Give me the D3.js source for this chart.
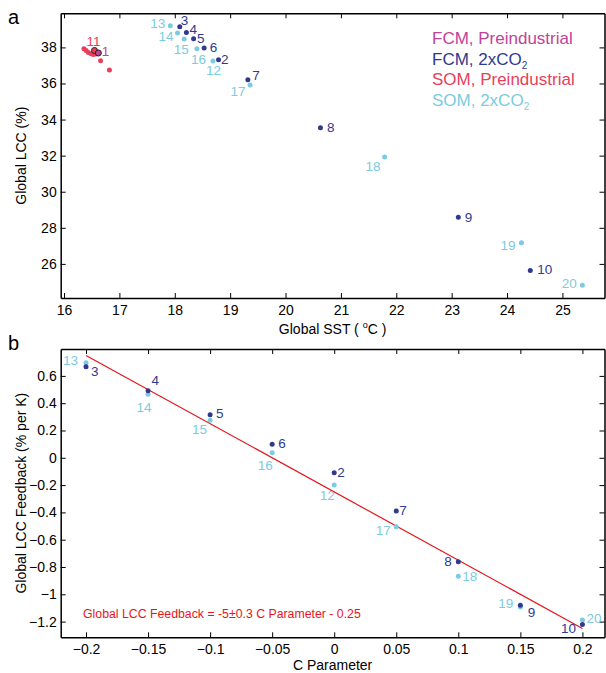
<!DOCTYPE html>
<html lang="en">
<head>
<meta charset="UTF-8">
<title>Global LCC vs SST and C Parameter</title>
<style>
  body { margin: 0; background: #fff; }
  svg { display: block; font-family: "Liberation Sans", Arial, Helvetica, sans-serif; }
  .tick text { font-size: 14px; fill: #000; }
  .domain, .tick line { stroke: #000; }
  .domain { stroke-width: 1.5px; }
</style>
</head>
<body>
<svg id="chart" width="606" height="673"></svg>
<script src="https://cdn.jsdelivr.net/npm/d3@7"></script>
<script>
// ---- data ----
// panel a : run ids and global SST / LCC
const fcm2Ids = [2, 3, 4, 5, 6, 7, 8, 9, 10];
const fcm2Sst = [18.79, 18.09, 18.21, 18.34, 18.53, 19.32, 20.63, 23.12, 24.42];
const fcm2Lcc = [37.32, 39.15, 38.83, 38.48, 37.97, 36.21, 33.55, 28.59, 25.64];

const som2Ids = [12, 13, 14, 15, 16, 17, 18, 19, 20];
const som2Sst = [18.69, 17.92, 18.05, 18.17, 18.40, 19.36, 21.79, 24.26, 25.36];
const som2Lcc = [37.25, 39.20, 38.80, 38.47, 37.93, 35.91, 31.92, 27.17, 24.82];

const somPiSst = [16.36, 16.40, 16.44, 16.49, 16.53, 16.58, 16.60, 16.66, 16.82];
const somPiLcc = [37.93, 37.83, 37.72, 37.65, 37.61, 37.63, 37.66, 37.26, 36.75];

// control runs (circled)
const ctrlIds = [11, 1];
const ctrlSst = [16.55, 16.62];
const ctrlLcc = [37.83, 37.69];

// panel b : C parameter and LCC feedback (% per K)
const cParam = [0, -0.2, -0.15, -0.1, -0.05, 0.05, 0.1, 0.15, 0.2];
const fbFcm = [-0.11, 0.667, 0.491, 0.316, 0.099, -0.39, -0.761, -1.081, -1.222];
const fbSom = [-0.199, 0.697, 0.465, 0.275, 0.037, -0.505, -0.868, -1.093, -1.188];
const fitSlope = -5, fitIntercept = -0.25;

// ticks
const sstTicks = [16, 17, 18, 19, 20, 21, 22, 23, 24, 25];
const lccTicks = [26, 28, 30, 32, 34, 36, 38];
const cTicks = [-0.2, -0.15, -0.1, -0.05, 0, 0.05, 0.1, 0.15, 0.2];
const fbTicks = [-1.2, -1, -0.8, -0.6, -0.4, -0.2, 0, 0.2, 0.4, 0.6];

// legend
const legendNames = [["FCM, Preindustrial", ""], ["FCM, 2xCO", "2"], ["SOM, Preindustrial", ""], ["SOM, 2xCO", "2"]];

// ---- colours ----
const cFcmPi = "#c2429a", cFcm2 = "#2f3a8f", cSomPi = "#e8405c", cSom2 = "#7ccbe0", cFit = "#e8141c";
const legendColors = [cFcmPi, cFcm2, cSomPi, cSom2];

const svg = d3.select("#chart");
const L = 60.7, R = 604.5;
const labelSize = 13.5;

// label placement: id -> [dx, dy, anchor]
const placeA = {
  3: [1, -2, "start"], 13: [-5, 2, "end"], 4: [3, 2, "start"], 14: [-4, 8.5, "end"],
  5: [3.5, 4, "start"], 15: [4.5, 15, "end"], 6: [5.5, 4, "start"], 16: [9, 15, "end"],
  2: [2.5, 4, "start"], 12: [8, 14, "end"], 7: [4.5, 0, "start"], 17: [-4.5, 11, "end"],
  8: [6.5, 4.5, "start"], 18: [-4, 13.5, "end"], 9: [6.5, 4.5, "start"], 19: [-6, 7.5, "end"],
  10: [7, 3.5, "start"], 20: [-5.5, 3, "end"], 11: [-1, -4.5, "middle"], 1: [3.5, 3.5, "start"]
};
const placeB = {
  13: [-8, 2.5, "end"], 3: [5, 9, "start"], 4: [3.5, -5.5, "start"], 14: [-4, 18, "middle"],
  5: [6, 3, "start"], 15: [-3, 14, "end"], 6: [6, 4, "start"], 16: [0.5, 17.5, "end"],
  2: [3, 4.5, "start"], 12: [0.5, 15, "end"], 7: [3, 3.5, "start"], 17: [-5.5, 8.5, "end"],
  8: [-6.5, 4.5, "end"], 18: [4, 4.5, "start"], 19: [-7, 1, "end"], 9: [7.5, 12, "start"],
  10: [-6.5, 8, "end"], 20: [4, 3, "start"]
};

function frame(x, y, xt, yt, xfmt, yfmt) {
  const [y0, y1] = y.range();
  svg.append("g").attr("transform", `translate(0,${y0})`)
    .call(d3.axisBottom(x).tickValues(xt).tickFormat(xfmt).tickSizeInner(-5).tickSizeOuter(0).tickPadding(7));
  svg.append("g").attr("transform", `translate(0,${y1})`)
    .call(d3.axisTop(x).tickValues(xt).tickFormat("").tickSizeInner(-5).tickSizeOuter(0));
  svg.append("g").attr("transform", `translate(${L},0)`)
    .call(d3.axisLeft(y).tickValues(yt).tickFormat(yfmt).tickSizeInner(-5).tickSizeOuter(0).tickPadding(4));
  svg.append("g").attr("transform", `translate(${R},0)`)
    .call(d3.axisRight(y).tickValues(yt).tickFormat("").tickSizeInner(-5).tickSizeOuter(0));
}

function points(x, y, xs, ys, color, ids, place, r) {
  const pts = xs.map((v, i) => ({ x: x(v), y: y(ys[i]), id: ids ? ids[i] : null }));
  svg.append("g").selectAll("circle").data(pts).join("circle")
    .attr("cx", d => d.x).attr("cy", d => d.y).attr("r", r || 2.5).attr("fill", color);
  if (ids) {
    svg.append("g").selectAll("text").data(pts).join("text")
      .attr("x", d => d.x + place[d.id][0]).attr("y", d => d.y + place[d.id][1])
      .attr("text-anchor", d => place[d.id][2])
      .attr("font-size", labelSize).attr("fill", color).text(d => d.id);
  }
}

// ---- panel a ----
const xA = d3.scaleLinear().domain([15.94, 25.76]).range([L, R]);
const yA = d3.scaleLinear().domain([24.11, 39.89]).range([298, 13.3]);
frame(xA, yA, sstTicks, lccTicks, d3.format("d"), d3.format("d"));

points(xA, yA, somPiSst, somPiLcc, cSomPi);
points(xA, yA, som2Sst, som2Lcc, cSom2, som2Ids, placeA);
points(xA, yA, fcm2Sst, fcm2Lcc, cFcm2, fcm2Ids, placeA);

// circled control runs
const ctrlColors = [cSomPi, cFcmPi];
svg.append("g").selectAll("circle").data(ctrlIds).join("circle")
  .attr("cx", (d, i) => xA(ctrlSst[i])).attr("cy", (d, i) => yA(ctrlLcc[i]))
  .attr("r", 3).attr("fill", (d, i) => ctrlColors[i]).attr("stroke", "#222").attr("stroke-width", 1);
svg.append("g").selectAll("text").data(ctrlIds).join("text")
  .attr("x", (d, i) => xA(ctrlSst[i]) + placeA[d][0]).attr("y", (d, i) => yA(ctrlLcc[i]) + placeA[d][1])
  .attr("text-anchor", d => placeA[d][2]).attr("font-size", labelSize)
  .attr("fill", (d, i) => ctrlColors[i]).text(d => d);

// legend
const leg = svg.append("g").selectAll("text").data(legendNames).join("text")
  .attr("x", 432).attr("y", (d, i) => 44 + i * 20.5)
  .attr("font-size", 17).attr("fill", (d, i) => legendColors[i]);
leg.append("tspan").text(d => d[0]);
leg.filter(d => d[1]).append("tspan").attr("font-size", 10).attr("dy", 4).text(d => d[1]);

// axis titles
svg.append("text").attr("transform", `translate(26,${(13.3 + 298) / 2}) rotate(-90)`)
  .attr("text-anchor", "middle").attr("font-size", 14).text("Global  LCC (%)");
const sst = svg.append("text").attr("x", (L + R) / 2).attr("y", 334)
  .attr("text-anchor", "middle").attr("font-size", 14);
sst.append("tspan").text("Global SST ( ");
sst.append("tspan").attr("font-size", 9).attr("dy", -6).text("o");
sst.append("tspan").attr("dy", 6).text("C )");
svg.append("text").attr("x", 8).attr("y", 24).attr("font-size", 20).text("a");

// ---- panel b ----
const xB = d3.scaleLinear().domain([-0.2204, 0.2178]).range([L, R]);
const yB = d3.scaleLinear().domain([-1.315, 0.797]).range([637.3, 349]);
frame(xB, yB, cTicks, fbTicks, d3.format("~g"), d3.format("~g"));

const fitX = d3.extent(cTicks);
svg.append("line")
  .attr("x1", xB(fitX[0])).attr("y1", yB(fitSlope * fitX[0] + fitIntercept))
  .attr("x2", xB(fitX[1])).attr("y2", yB(fitSlope * fitX[1] + fitIntercept))
  .attr("stroke", cFit).attr("stroke-width", 1.2);

points(xB, yB, cParam, fbSom, cSom2, som2Ids, placeB);
points(xB, yB, cParam, fbFcm, cFcm2, fcm2Ids, placeB);

svg.append("text").attr("x", 83).attr("y", 618).attr("font-size", 12.3).attr("fill", cFit)
  .text("Global LCC Feedback = -5\u00b10.3 C Parameter - 0.25");

svg.append("text").attr("transform", `translate(26,${(349 + 637.3) / 2}) rotate(-90)`)
  .attr("text-anchor", "middle").attr("font-size", 14).text("Global LCC Feedback (% per K)");
svg.append("text").attr("x", (L + R) / 2).attr("y", 670)
  .attr("text-anchor", "middle").attr("font-size", 14).text("C Parameter");
svg.append("text").attr("x", 8).attr("y", 350).attr("font-size", 20).text("b");
</script>
</body>
</html>
